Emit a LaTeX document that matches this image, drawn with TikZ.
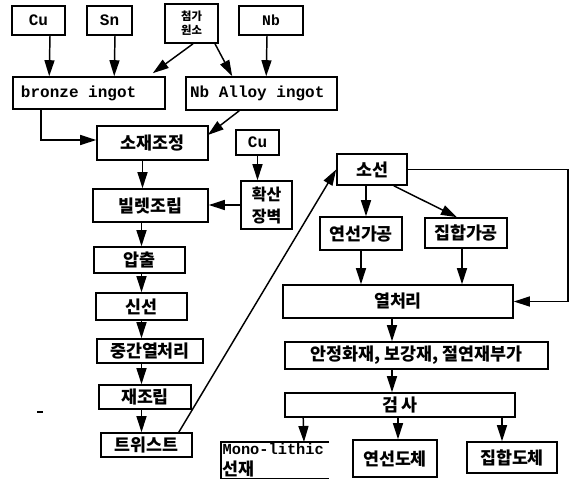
\documentclass[tikz,border=0pt]{standalone}
\usepackage{fontspec}
\setmainfont{Liberation Mono}
\newfontfamily\kr{Noto Sans CJK KR}
\usetikzlibrary{arrows.meta}
\usetikzlibrary{calc}

\begin{document}
\begin{tikzpicture}[x=0.75pt,y=0.75pt,yscale=-1,xscale=1,
  box/.style={draw, line width=1.2pt, inner sep=0pt, font=\kr\bfseries\fontsize{13}{15}\selectfont},
  latn/.style={font=\rmfamily\bfseries\fontsize{12}{14}\selectfont},
  sz/.style n args={2}{minimum width=#1*0.75pt, minimum height=#2*0.75pt},
  arr/.style={line width=1.1pt, -{Triangle[length=12pt,width=7.5pt]}}]
\useasboundingbox (0,0) rectangle (574,480);

%Shape: Rectangle (raw materials)
\node[box,latn,sz={53}{29}] (cuA) at (38.5,20.5) {Cu};
\node[box,latn,sz={45}{29}] (sn) at (109.5,20.5) {Sn};
\node[box,sz={53}{39},align=center,font=\kr\bfseries\fontsize{8.5}{10.5}\selectfont] (tg) at (191.5,23.5) {첨가\\원소};
\node[box,sz={64}{29},font=\rmfamily\bfseries\fontsize{11}{12}\selectfont] (nb) at (271,20.5) {Nb};
%Shape: Rectangle (ingots)
\node[box,latn,minimum height=32*0.75pt,inner xsep=8*0.75pt,text width=136*0.75pt,align=left] (bronze) at (89,93) {\spaceskip=0pt\relax bronze ingot};
\node[box,latn,minimum height=33*0.75pt,inner xsep=4*0.75pt,text width=143*0.75pt,align=left] (nballoy) at (261.5,93.5) {\spaceskip=0pt\relax Nb Alloy ingot};
%Shape: Rectangle (left column)
\node[box,sz={111}{34}] (sojae) at (152.5,143) {소재조정};
\node[box,latn,sz={43}{25}] (cuB) at (257.5,142.5) {Cu};
\node[box,sz={51}{48},align=center,font=\kr\bfseries\fontsize{12}{16.5}\selectfont] (hwaksan) at (266.5,205) {확산\\장벽};
\node[box,sz={115}{33}] (billet) at (150.5,205.5) {빌렛조립};
\node[box,sz={91}{26}] (apchul) at (139.5,260) {압출};
\node[box,sz={91}{27}] (sinsun) at (141.5,306.5) {신선};
\node[box,sz={106}{24}] (jungan) at (150,351) {중간열처리};
\node[box,sz={92}{24}] (jaejorip) at (145,397) {재조립};
\node[box,sz={91}{24}] (twist) at (146.5,445) {트위스트};
%Shape: Rectangle (right column)
\node[box,sz={70}{31}] (soseon) at (372,169.5) {소선};
\node[box,sz={82}{33}] (yeonseon) at (361,233.5) {연선가공};
\node[box,sz={82}{30}] (jiphap) at (466,233) {집합가공};
\node[box,sz={230}{33}] (yeol) at (398,301.5) {열처리};
\node[box,sz={263}{27}] (anjung) at (416.5,355.5) {안정화재, 보강재, 절연재부가};
\node[box,sz={230}{24}] (geomsa) at (400,405) {검 사};
%Shape: Rectangle (products)
\node[anchor=north west,inner sep=1pt,text width=105*0.75pt,minimum height=36*0.75pt,align=left,font=\rmfamily\bfseries\fontsize{11.5}{15.5}\selectfont] (mono) at (221,442) {Mono-lithic\\{\kr\bfseries\fontsize{13}{15}\selectfont 선재}};
\draw[line width=1.2pt] (mono.north east) -- (mono.north west) -- (mono.south west) -- (mono.south east);
\node[box,sz={84}{37}] (yeonseonD) at (395,458.5) {연선도체};
\node[box,sz={90}{31}] (jiphapD) at (512,457.5) {집합도체};

%Straight Lines (top)
\draw[arr] ($(cuA.south)+(11.5,0)$) -- ($(bronze.north west)+(37,0)$);
\draw[arr] ($(sn.south)+(5.5,0)$) -- ($(bronze.north west)+(102,0)$);
\draw[arr] ($(tg.south)+(1.5,0)$) -- ($(bronze.north east)+(-13,-3)$);
\draw[arr] ($(tg.south)+(23.5,0)$) -- ($(nballoy.north west)+(47,0)$);
\draw[arr] ($(nb.south)+(-4,0)$) -- ($(nballoy.north west)+(81,0)$);
\draw[arr] ($(bronze.south west)+(29,0)$) |- ($(sojae.west)+(0,-3)$);
\draw[arr] ($(nballoy.south west)+(54,0)$) -- ($(sojae.east)+(-1,-8)$);
%Straight Lines (left column)
\draw[arr] ($(sojae.south)+(-10,0)$) -- ($(billet.north)+(-8,0)$);
\draw[arr] (cuB.south) -- (cuB.south |- hwaksan.north);
\draw[arr] (hwaksan.west) -- (hwaksan.west -| billet.east);
\draw[arr] (billet.south -| sinsun) -- (apchul.north -| sinsun);
\draw[arr] (apchul.south -| sinsun) -- (sinsun.north);
\draw[arr] (sinsun.south) -- (jungan.north -| sinsun);
\draw[arr] (jungan.south -| sinsun) -- (jaejorip.north -| sinsun);
\draw[arr] (jaejorip.south -| sinsun) -- (twist.north -| sinsun);
\draw[arr] ($(twist.north east)+(-14,0)$) -- (soseon.west);
%Straight Lines (right column)
\draw[arr] ($(soseon.south)+(-6,0)$) -- ($(yeonseon.north)+(5,0)$);
\draw[arr] ($(soseon.south east)+(-14,0)$) -- ($(jiphap.north)+(-9,0)$);
\draw[arr] (yeonseon.south) -- (yeonseon.south |- yeol.north);
\draw[arr] ($(jiphap.south)+(-4,0)$) -- ($(yeol.north)+(64,0)$);
\draw[arr] (soseon.east) -| ($(yeol.east)+(54,0)$) -- (yeol.east);
\draw[arr] ($(yeol.south)+(-6,0)$) -- ($(anjung.north)+(-24.5,0)$);
\draw[arr] ($(anjung.south)+(-24.5,0)$) -- ($(geomsa.north)+(-8,0)$);
\draw[arr] ($(geomsa.south west)+(19,0)$) -- ($(mono.north west)+(83,0)$);
\draw[arr] ($(geomsa.south)+(-2,0)$) -- ($(yeonseonD.north)+(3,0)$);
\draw[arr] ($(geomsa.south)+(102,0)$) -- ($(jiphapD.north)+(-10,0)$);

%Straight Lines (stray mark)
\draw[line width=1pt] (37,412) -- (43,412);

\end{tikzpicture}
\end{document}
